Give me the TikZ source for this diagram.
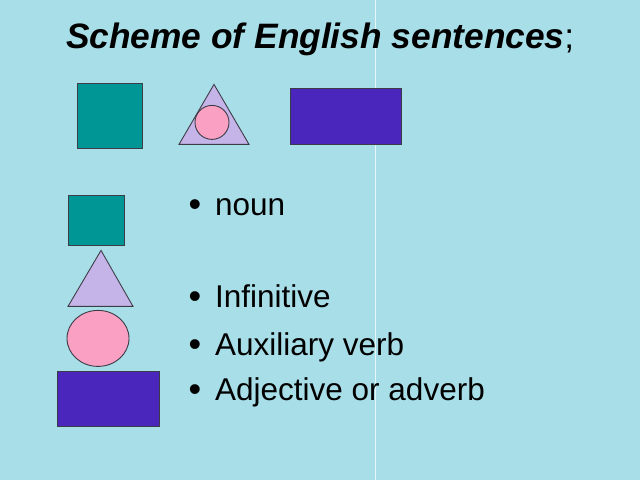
\documentclass[tikz,border=0pt]{standalone}
\usepackage{fontspec}
\setmainfont{Liberation Sans}
\usepackage{tikz}
\usetikzlibrary{positioning}

\definecolor{waterbg}{RGB}{168,222,232}
\definecolor{nounteal}{RGB}{0,150,150}
\definecolor{inflilac}{RGB}{196,180,232}
\definecolor{auxpink}{RGB}{250,160,195}
\definecolor{adjpurple}{RGB}{74,38,189}
\definecolor{edgegrey}{RGB}{60,60,70}

\begin{document}
\begin{tikzpicture}[x=1pt, y=-1pt,
    shapeline/.style={draw=edgegrey, line width=0.9pt},
    item/.style={anchor=base west, inner sep=0pt, font=\fontsize{31.5}{36}\selectfont},
    dot/.style={anchor=base, inner sep=0pt, font=\fontsize{36}{40}\selectfont}]
    % background
    \fill[waterbg] (0,0) rectangle (640,480);
    \draw[white, opacity=0.7, line width=0.8pt] (375,0) -- (375,480);
    \useasboundingbox (0,0) rectangle (640,480);

    % title
    \node[anchor=base west, inner sep=0pt, font=\fontsize{35.3}{40}\selectfont] (title) at (66,48)
        {{\bfseries\itshape Scheme of English sentences};};

    % top scheme
    \draw[shapeline, fill=nounteal] (77,83) rectangle (142,148);
    \draw[shapeline, fill=inflilac] (214,84) -- (249,144) -- (179,144) -- cycle;
    \node[shapeline, fill=auxpink, circle, minimum size=34pt, inner sep=0pt] (topaux) at (212,122) {};
    \draw[shapeline, fill=adjpurple] (290,88) rectangle (401,144);

    % legend shapes
    \draw[shapeline, fill=nounteal] (68,195) rectangle (124,245);
    \draw[shapeline, fill=inflilac] (101,250) -- (133,306) -- (68,306) -- cycle;
    \draw[shapeline, fill=auxpink] (98,338) ellipse (31 and 28);
    \draw[shapeline, fill=adjpurple] (57,371) rectangle (159,426);

    % legend texts
    \node[dot] (b1) at (195,216) {•};
    \node[item] (noun) at (215,215) {noun};
    \node[dot] (b2) at (195,308) {•};
    \node[item] (inf) at (215,307) {Infinitive};
    \node[dot] (b3) at (195,356) {•};
    \node[item] (aux) at (215,355) {Auxiliary verb};
    \node[dot] (b4) at (195,401) {•};
    \node[item] (adj) at (215,400) {Adjective or adverb};
\end{tikzpicture}
\end{document}
